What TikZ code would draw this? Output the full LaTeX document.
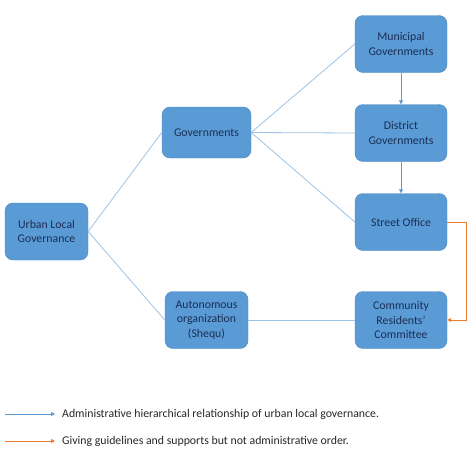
\documentclass[tikz,border=0pt]{standalone}
\usepackage{fontspec}
\setmainfont{Carlito}
\usetikzlibrary{arrows.meta}
\definecolor{boxfill}{HTML}{5B9BD5}
\definecolor{boxline}{HTML}{4A86C0}
\definecolor{boxtext}{HTML}{1A2E55}
\definecolor{linkblue}{HTML}{9DC3E6}
\definecolor{arrblue}{HTML}{5B9BD5}
\definecolor{orng}{HTML}{ED7D31}
\tikzset{
  unit/.style={draw=boxline, fill=boxfill, rounded corners=8pt, text=boxtext,
    align=center, font=\fontsize{11.8}{14.5}\selectfont, inner sep=0pt,
    minimum width=#1, minimum height=57pt},
  link/.style={draw=linkblue, line width=0.8pt},
  down/.style={draw=arrblue, line width=0.8pt, -{Triangle[length=4pt,width=4pt]}},
  guide/.style={draw=orng, line width=0.8pt, -{Triangle[length=4pt,width=4pt]}},
  legendtext/.style={anchor=west, text=black!85, font=\fontsize{11.8}{13}\selectfont, inner sep=0pt}
}
\begin{document}
\begin{tikzpicture}[x=1pt,y=-1pt]
\useasboundingbox (0,0) rectangle (474,469);
\node[unit=83pt] (ulg) at (46.5,231.5) {Urban Local\\Governance};
\node[unit=89pt, minimum height=51pt] (gov) at (206.5,132.5) {Governments};
\node[unit=83pt] (auto) at (206.5,320) {Autonomous\\organization\\(Shequ)};
\node[unit=92pt] (mun) at (401,44) {Municipal\\Governments};
\node[unit=92pt] (dist) at (401,133) {District\\Governments};
\node[unit=92pt] (street) at (401,222) {Street Office};
\node[unit=92pt] (comm) at (401,320) {Community\\Residents'\\Committee};
\draw[link] (ulg.east) -- (gov.west);
\draw[link] (ulg.east) -- (auto.west);
\draw[link] (gov.east) -- (mun.west);
\draw[link] (gov.east) -- (dist.west);
\draw[link] (gov.east) -- (street.west);
\draw[link] (auto.east) -- (comm.west);
\draw[down] (mun.south) -- (dist.north);
\draw[down] (dist.south) -- (street.north);
\coordinate (bend1) at (466,222);
\coordinate (bend2) at (466,320);
\draw[guide] (street.east) -- (bend1) -- (bend2) -- (comm.east);
\coordinate (l1a) at (5,414);
\coordinate (l1b) at (55,414);
\coordinate (l2a) at (5,441);
\coordinate (l2b) at (55,441);
\draw[down] (l1a) -- (l1b);
\draw[guide] (l2a) -- (l2b);
\node[legendtext] (t1) at (62,414) {Administrative hierarchical relationship of urban local governance.};
\node[legendtext] (t2) at (62,441) {Giving guidelines and supports but not administrative order.};
\end{tikzpicture}
\end{document}
